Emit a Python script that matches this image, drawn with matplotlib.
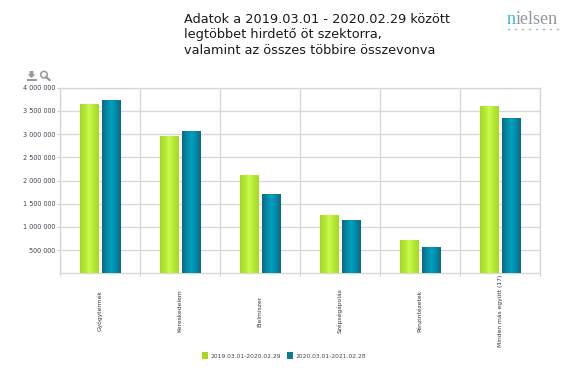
import numpy as np
import matplotlib
matplotlib.use('Agg')
import matplotlib.pyplot as plt
from matplotlib.colors import LinearSegmentedColormap
from matplotlib.lines import Line2D
from matplotlib.patches import Circle, Polygon, Rectangle

W, H = 580, 379

categories = ['Gyógytermék', 'Kereskedelem', 'Élelmiszer', 'Szépségápolás',
              'Pénzintézetek', 'Minden más együtt (17)']
series_names = ['2019.03.01-2020.02.29', '2020.03.01-2021.02.28']
values_2019 = [3640000, 2944000, 2110000, 1235000, 710000, 3584000]
values_2020 = [3720000, 3045000, 1687000, 1142000, 539000, 3320000]
y_ticks = [500000, 1000000, 1500000, 2000000, 2500000, 3000000, 3500000, 4000000]
title_lines = ['Adatok a 2019.03.01 - 2020.02.29 között',
               'legtöbbet hirdető öt szektorra,',
               'valamint az összes többire összevonva']

GREEN = '#a6d81e'
BLUE = '#0a7c96'
green_cm = LinearSegmentedColormap.from_list('g', ['#a6dc20', '#b4e632', '#c9fb52', '#b4e632', '#a6dc20'])
blue_cm = LinearSegmentedColormap.from_list('b', ['#0b6a82', '#0488a6', '#00a0c2', '#0488a6', '#0b6a82'])
grad = np.linspace(0, 1, 64).reshape(1, -1)

fig = plt.figure(figsize=(W / 100, H / 100), dpi=100)
ax = fig.add_axes([60.3 / W, 1 - 273.3 / H, 480 / W, 185.6 / H])

x = np.arange(len(categories))
bw = 0.233
off = 0.139
b1 = ax.bar(x + 0.5 - off, values_2019, bw, color=GREEN, label=series_names[0], zorder=3)
b2 = ax.bar(x + 0.5 + off, values_2020, bw, color=BLUE, label=series_names[1], zorder=3)

# henger-hatás: színátmenet a hasábokon
for bars, cm in [(b1, green_cm), (b2, blue_cm)]:
    for r in bars:
        ax.imshow(grad, cmap=cm, aspect='auto', zorder=4,
                  extent=[r.get_x(), r.get_x() + r.get_width(), 0, r.get_height()])

ax.set_xlim(0, 6)
ax.set_ylim(0, 4000000)
ax.set_xticks(np.arange(7))
ax.set_xticklabels([])
ax.set_yticks(y_ticks)
ax.set_yticklabels([f'{v:,}'.replace(',', ' ') for v in y_ticks], fontsize=4.7, color='#444455')
ax.tick_params(axis='both', length=2.2, width=0.8, color='#d0d0d0', pad=1.5)
ax.grid(True, color='#d8d8d8', lw=1.0, zorder=0)
ax.set_axisbelow(True)
for s in ax.spines.values():
    s.set_color('#d8d8d8')
    s.set_linewidth(1.0)

for i, c in enumerate(categories):
    fig.text((100.3 + i * 80) / W, 1 - 311 / H, c, rotation=90, ha='center', va='center',
             fontsize=4.3, color='#333344')

for i, line in enumerate(title_lines):
    fig.text(184 / W, 1 - (19.2 + i * 15.5) / H, line, fontsize=9.25, color='#1a1a1a',
             ha='left', va='center')

# logó
fig.text(506.5 / W, 1 - 19 / H, 'n', family='Liberation Serif', fontsize=13, color='#35b5d8', ha='left', va='center')
fig.text(516 / W, 1 - 19 / H, 'ielsen', family='Liberation Serif', fontsize=13, color='#8f979c', ha='left', va='center')
for px in np.arange(508, 558, 7):
    fig.add_artist(Line2D([px / W, (px + 1) / W], [1 - 29 / H] * 2, color='#b5b5b5', lw=1))

# ikonok
def fx(px):
    return px / W

def fy(py):
    return 1 - py / H

icon = '#9a9a9a'
fig.add_artist(Polygon([[fx(29.5), fy(71)], [fx(33.5), fy(71)], [fx(33.5), fy(74.5)], [fx(35.5), fy(74.5)],
                        [fx(31.5), fy(78)], [fx(27.5), fy(74.5)], [fx(29.5), fy(74.5)]], color=icon, lw=0))
fig.add_artist(Rectangle((fx(27), fy(80.5)), 9.5 / W, 2 / H, color=icon, lw=0))
fig.add_artist(Line2D([fx(46), fx(49.5)], [fy(77), fy(80)], color=icon, lw=1.6))
fig.add_artist(Circle((44, H - 74.7), 3.3, transform=None, fill=False, ec=icon, lw=1.1))

leg = fig.legend(handles=[b1, b2], labels=series_names, loc='center', frameon=False, ncol=2,
                 bbox_to_anchor=(284.3 / W, 1 - 355.8 / H), fontsize=4.3, handlelength=0.95,
                 handleheight=1.4, handletextpad=0.5, columnspacing=1.0, labelcolor='#444455')

fig.savefig('out.png', dpi=100)
